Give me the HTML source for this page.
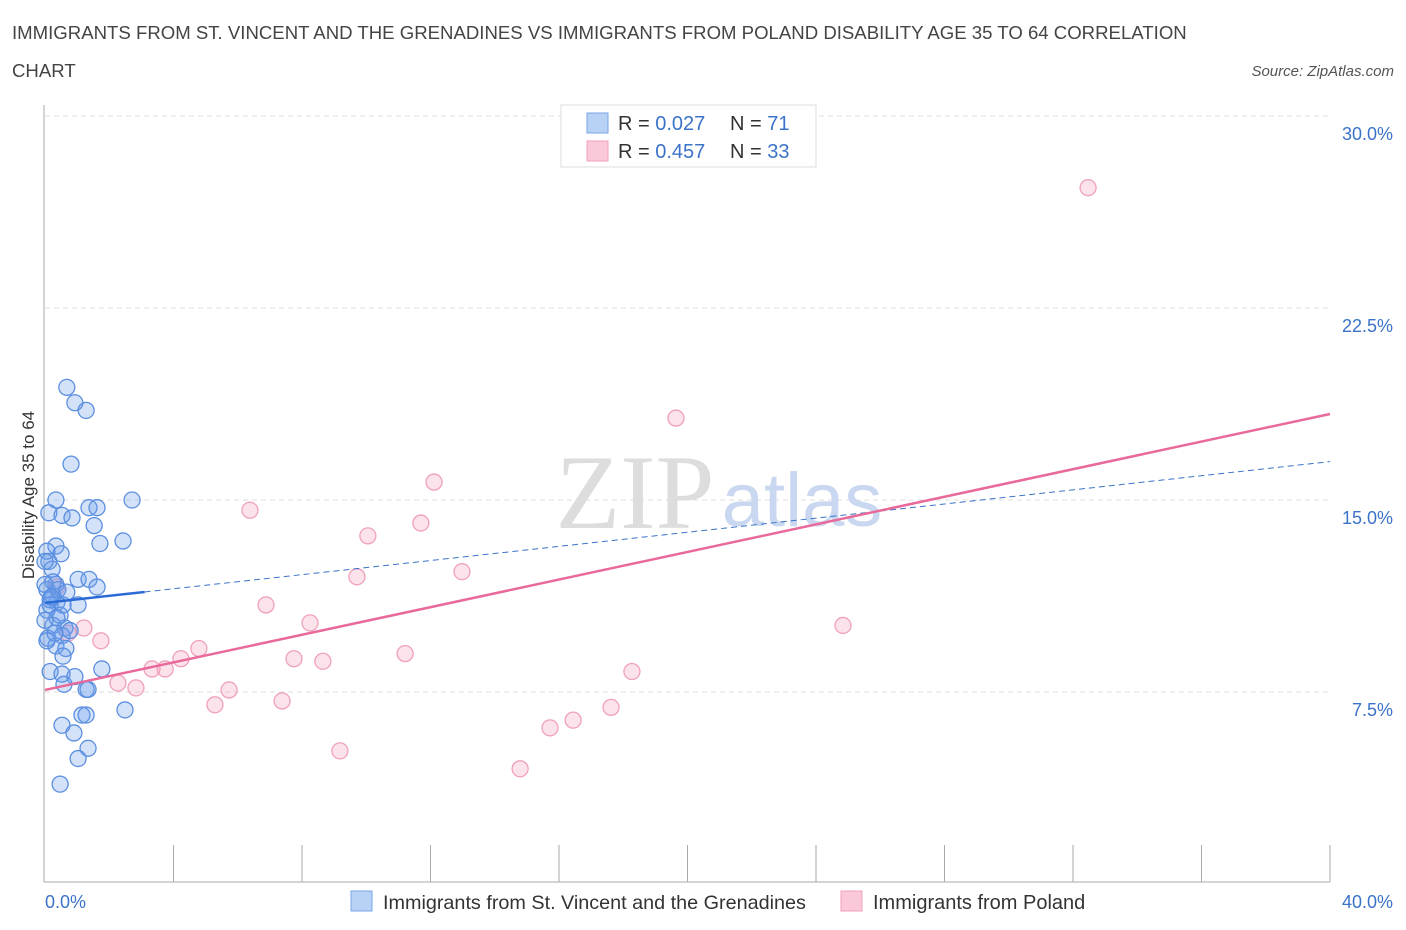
<!DOCTYPE html>
<html><head><meta charset="utf-8"><style>
body{margin:0;background:#fff;width:1406px;height:930px;overflow:hidden;font-family:"Liberation Sans",sans-serif}
svg{position:absolute;left:0;top:0}
</style></head><body>
<svg width="1406" height="930">
<text x="12" y="39" font-size="18.6" fill="#444">IMMIGRANTS FROM ST. VINCENT AND THE GRENADINES VS IMMIGRANTS FROM POLAND DISABILITY AGE 35 TO 64 CORRELATION</text>
<text x="12" y="77" font-size="18.6" fill="#444">CHART</text>
<text x="1394" y="76" font-size="15" fill="#555" font-style="italic" text-anchor="end">Source: ZipAtlas.com</text>
<g id="grid"></g>
<text x="635" y="528" font-size="106" fill="#ddd" font-family="Liberation Serif,serif" text-anchor="middle">ZIP</text>
<text x="802" y="526" font-size="76" fill="#c9d8f0" text-anchor="middle">atlas</text>
<g id="pts"></g>
<g id="lines"></g>
<text x="34" y="495" font-size="17" fill="#333" text-anchor="middle" transform="rotate(-90 34 495)">Disability Age 35 to 64</text>
<text x="45" y="908" font-size="18" fill="#3b73c9">0.0%</text>
<text x="1393" y="908" font-size="18" fill="#3b73c9" text-anchor="end">40.0%</text>
<g>
<rect x="561" y="105" width="255" height="62" fill="#fff" stroke="#ddd"/>
<rect x="587" y="113" width="21" height="20" fill="#b8d2f5" stroke="#7aa6e6"/>
<rect x="587" y="141" width="21" height="20" fill="#fac8d8" stroke="#f0a0bb"/>
<text x="618" y="130" font-size="20" fill="#333">R = <tspan fill="#3b73c9">0.027</tspan></text>
<text x="730" y="130" font-size="20" fill="#333">N = <tspan fill="#3b73c9"> 71</tspan></text>
<text x="618" y="158" font-size="20" fill="#333">R = <tspan fill="#3b73c9">0.457</tspan></text>
<text x="730" y="158" font-size="20" fill="#333">N = <tspan fill="#3b73c9">33</tspan></text>
</g>
<g>
<rect x="351" y="891" width="21" height="20" fill="#b8d2f5" stroke="#7aa6e6"/>
<text x="383" y="909" font-size="19.8" fill="#333">Immigrants from St. Vincent and the Grenadines</text>
<rect x="841" y="891" width="21" height="20" fill="#fac8d8" stroke="#f0a0bb"/>
<text x="873" y="909" font-size="20" fill="#333">Immigrants from Poland</text>
</g>
</svg>
<script>
const blueX=[0.68,0.93,1.28,0.81,0.34,2.71,0.12,0.53,0.84,1.37,1.62,1.53,2.43,1.71,0.34,0.06,0.50,0.12,0.22,1.03,1.37,1.62,0.34,0.06,0.25,0.37,1.03,0.16,0.47,0.06,0.25,0.62,0.09,0.53,0.34,0.65,0.56,0.16,1.77,0.53,0.93,0.59,1.28,1.34,2.49,1.15,1.28,0.53,0.90,1.34,1.03,0.47,0.37,0.25,0.16,0.0,0.0,0.06,0.31,0.78,0.0,0.40,0.19,0.56,0.68];
const blueY=[19.4,18.8,18.5,16.4,15.0,15.0,14.5,14.4,14.3,14.7,14.7,14.0,13.4,13.3,13.2,13.0,12.9,12.6,12.3,11.9,11.9,11.6,11.7,11.5,11.25,11.0,10.9,10.9,10.5,10.7,10.1,10.0,9.6,9.7,9.3,9.2,8.9,8.3,8.4,8.2,8.1,7.8,7.6,7.6,6.8,6.6,6.6,6.2,5.9,5.3,4.9,3.9,10.4,11.8,11.1,12.6,11.7,9.5,9.8,9.9,10.3,11.5,11.2,10.9,11.4];
const pinkX=[32.47,19.64,12.11,6.38,11.70,10.05,12.98,9.71,6.88,8.25,24.84,1.21,0.72,1.74,4.79,4.23,3.33,3.74,7.75,8.65,11.21,18.27,2.27,2.83,5.73,5.29,7.38,17.62,16.44,15.72,9.18,14.79,0.37];
const pinkY=[27.2,18.2,15.7,14.6,14.1,13.6,12.2,12.0,10.9,10.2,10.1,10.0,9.8,9.5,9.2,8.8,8.4,8.4,8.8,8.7,9.0,8.3,7.85,7.66,7.58,7.0,7.15,6.9,6.4,6.1,5.2,4.5,11.6];
const yTicks=[7.5,15.0,22.5,30.0];
const xTicks=[0,4,8,12,16,20,24,28,32,36,40];
const blueTrend=[10.98,16.5];
const pinkTrend=[7.58,18.36];
const blueSolidEnd=3.1;
const NS="http://www.w3.org/2000/svg";
const sx=v=>45+v*32.125, sy=v=>884-v*25.6;
function mk(t,a,p){const e=document.createElementNS(NS,t);for(const k in a)e.setAttribute(k,a[k]);p.appendChild(e);return e;}
const grid=document.getElementById('grid');
yTicks.forEach(v=>{
 const l=mk('line',{x1:45,x2:1330,y1:sy(v),y2:sy(v),stroke:'#ddd','stroke-dasharray':'5,4'},grid);
 
 
 const t=mk('text',{x:1393,y:sy(v)+24,'font-size':18,fill:'#3b73c9','text-anchor':'end'},grid);
 t.textContent=v.toFixed(1)+'%';
 
 
});
const ax=mk('line',{x1:44,x2:44,y1:105,y2:882,stroke:'#aaa'},grid);


const bx=mk('line',{x1:44,x2:1330,y1:882,y2:882,stroke:'#aaa'},grid);


xTicks.slice(1).forEach(v=>{
 const l=mk('line',{x1:sx(v),x2:sx(v),y1:845,y2:882,stroke:'#aaa'},grid);
 
 
});
const pts=document.getElementById('pts');
pinkX.forEach((x,i)=>{
 const c=mk('circle',{cx:sx(x),cy:sy(pinkY[i]),r:8,fill:'rgba(245,160,190,0.3)',stroke:'#f0a0bb','stroke-width':1.3},pts);
 
 
});
blueX.forEach((x,i)=>{
 const c=mk('circle',{cx:sx(x),cy:sy(blueY[i]),r:8,fill:'rgba(110,160,235,0.3)',stroke:'#5b8fe0','stroke-width':1.3},pts);
 
 
});
const ln=document.getElementById('lines');
const by=x=>blueTrend[0]+(blueTrend[1]-blueTrend[0])*x/40;
const l1=mk('line',{x1:sx(blueSolidEnd),y1:sy(by(blueSolidEnd)),x2:sx(40),y2:sy(by(40)),stroke:'#3b73c9','stroke-width':1,'stroke-dasharray':'6,4'},ln);


const l2=mk('line',{x1:sx(0),y1:sy(by(0)),x2:sx(blueSolidEnd),y2:sy(by(blueSolidEnd)),stroke:'#2a6ad6','stroke-width':2.5},ln);


const l3=mk('line',{x1:sx(0),y1:sy(pinkTrend[0]),x2:sx(40),y2:sy(pinkTrend[1]),stroke:'#e8699a','stroke-width':2.5},ln);


</script>
</body></html>
